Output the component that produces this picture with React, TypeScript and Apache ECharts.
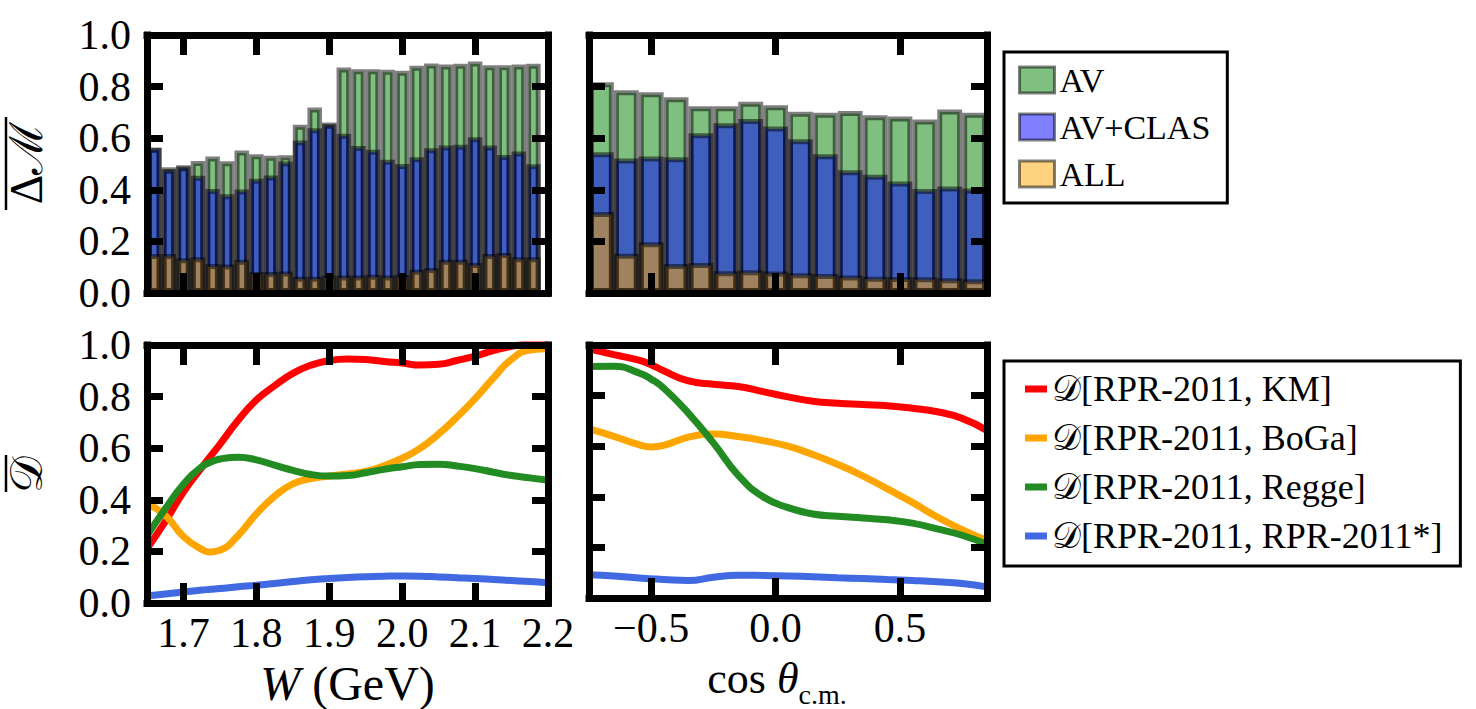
import React, { useEffect, useRef } from "react";
import * as echarts from "echarts";

// ---------- data ----------
const wBarCenters = [1.66, 1.68, 1.7, 1.72, 1.74, 1.76, 1.78, 1.8, 1.82, 1.84, 1.86, 1.88, 1.9, 1.92, 1.94, 1.96, 1.98, 2.0, 2.02, 2.04, 2.06, 2.08, 2.1, 2.12, 2.14, 2.16, 2.18];
const avW = [0.563, 0.487, 0.495, 0.512, 0.529, 0.511, 0.552, 0.538, 0.532, 0.534, 0.652, 0.719, 0.661, 0.874, 0.867, 0.867, 0.865, 0.861, 0.881, 0.89, 0.886, 0.889, 0.897, 0.883, 0.883, 0.886, 0.889];
const avClasW = [0.563, 0.481, 0.49, 0.454, 0.403, 0.383, 0.401, 0.443, 0.455, 0.51, 0.591, 0.639, 0.655, 0.617, 0.57, 0.555, 0.516, 0.5, 0.526, 0.561, 0.572, 0.575, 0.604, 0.572, 0.535, 0.548, 0.499];
const allW = [0.151, 0.151, 0.135, 0.139, 0.112, 0.11, 0.129, 0.081, 0.081, 0.083, 0.063, 0.063, 0.068, 0.068, 0.068, 0.071, 0.068, 0.07, 0.09, 0.097, 0.129, 0.129, 0.116, 0.151, 0.155, 0.139, 0.139];

const cosBarCenters = [-0.7, -0.6, -0.5, -0.4, -0.3, -0.2, -0.1, 0.0, 0.1, 0.2, 0.3, 0.4, 0.5, 0.6, 0.7, 0.8];
const avC = [0.817, 0.786, 0.778, 0.759, 0.724, 0.724, 0.741, 0.728, 0.703, 0.699, 0.705, 0.689, 0.684, 0.672, 0.711, 0.699];
const avClasC = [0.546, 0.521, 0.529, 0.526, 0.619, 0.658, 0.674, 0.645, 0.596, 0.538, 0.476, 0.458, 0.432, 0.403, 0.413, 0.405];
const allC = [0.314, 0.152, 0.197, 0.112, 0.116, 0.084, 0.088, 0.083, 0.077, 0.074, 0.068, 0.063, 0.062, 0.061, 0.057, 0.053];

const wCurve = [1.65, 1.675, 1.7, 1.725, 1.7375, 1.75, 1.775, 1.8, 1.825, 1.85, 1.875, 1.9, 1.925, 1.95, 1.975, 2.0, 2.025, 2.05, 2.075, 2.1, 2.125, 2.15, 2.175, 2.2];
const kmW = [0.21, 0.315, 0.43, 0.525, 0.57, 0.615, 0.708, 0.787, 0.842, 0.89, 0.922, 0.94, 0.946, 0.944, 0.936, 0.93, 0.922, 0.925, 0.94, 0.957, 0.978, 0.995, 1.005, 1.01];
const bogaW = [0.385, 0.34, 0.258, 0.208, 0.198, 0.204, 0.262, 0.345, 0.414, 0.462, 0.482, 0.492, 0.5, 0.51, 0.532, 0.561, 0.6, 0.655, 0.72, 0.792, 0.872, 0.945, 0.98, 0.985];
const reggeW = [0.26, 0.365, 0.46, 0.528, 0.546, 0.558, 0.565, 0.555, 0.534, 0.514, 0.498, 0.492, 0.494, 0.505, 0.518, 0.528, 0.537, 0.538, 0.531, 0.521, 0.507, 0.494, 0.485, 0.476];
const rprW = [0.028, 0.035, 0.043, 0.05, 0.053, 0.056, 0.063, 0.069, 0.076, 0.083, 0.09, 0.095, 0.099, 0.102, 0.104, 0.105, 0.104, 0.101, 0.098, 0.095, 0.091, 0.087, 0.083, 0.078];

const cosCurve = [-0.75, -0.65, -0.55, -0.5, -0.45, -0.35, -0.25, -0.15, -0.05, 0.05, 0.15, 0.25, 0.35, 0.45, 0.55, 0.65, 0.75, 0.85];
const kmC = [0.985, 0.962, 0.94, 0.922, 0.898, 0.858, 0.845, 0.836, 0.816, 0.795, 0.778, 0.77, 0.765, 0.76, 0.75, 0.736, 0.71, 0.662];
const bogaC = [0.668, 0.639, 0.606, 0.597, 0.603, 0.636, 0.648, 0.638, 0.622, 0.6, 0.567, 0.528, 0.483, 0.431, 0.378, 0.32, 0.27, 0.226];
const reggeC = [0.915, 0.916, 0.89, 0.865, 0.83, 0.73, 0.613, 0.485, 0.4, 0.357, 0.332, 0.323, 0.316, 0.309, 0.296, 0.273, 0.248, 0.212];
const rprC = [0.092, 0.087, 0.079, 0.076, 0.073, 0.069, 0.082, 0.09, 0.089, 0.087, 0.084, 0.08, 0.077, 0.073, 0.069, 0.064, 0.057, 0.044];

const wTicks = [1.7, 1.8, 1.9, 2.0, 2.1, 2.2];
const cosTicks = [-0.5, 0.0, 0.5];
const barNames = ["AV", "AV+CLAS", "ALL"];
const lineNames = [
  "𝒟[RPR-2011, KM]",
  "𝒟[RPR-2011, BoGa]",
  "𝒟[RPR-2011, Regge]",
  "𝒟[RPR-2011, RPR-2011*]",
];

// ---------- style ----------
const FONT = "serif";
const barFill = ["rgba(0,128,0,0.5)", "rgba(0,0,255,0.5)", "rgba(255,165,0,0.5)"];
const lineColors = ["#ff0000", "#ffa500", "#228b22", "#4169e1"];

const grids = [
  { left: 147, top: 35, width: 401, height: 258 },
  { left: 589, top: 35, width: 398, height: 258 },
  { left: 147, top: 345, width: 401, height: 258 },
  { left: 589, top: 345, width: 398, height: 258 },
];
const wBarPx = 401 * 0.02 / 0.55;
const cosBarPx = 398 * 0.1 / 1.6;

const pairs = (xs: number[], ys: number[]) => xs.map((x, i) => [x, ys[i]]);

const frameLine = { show: true, onZero: false, lineStyle: { color: "#000", width: 7, cap: "square" } };

function fmtTick(v: number) {
  const s = Math.abs(v) < 1e-9 ? "0.0" : v.toFixed(1);
  return s.replace("-", "−");
}

function xPair(gridIndex: number, min: number, max: number, ticks: number[], showLabels: boolean, name?: string, nameRich?: any, nameGap?: number, namePad?: number[]) {
  const base: any = {
    type: "value",
    gridIndex,
    min,
    max,
    z: 10,
    axisLine: frameLine,
    splitLine: { show: false },
    axisTick: { show: true, inside: true, length: 20, lineStyle: { color: "#000", width: 7 }, customValues: ticks },
  };
  const bottom: any = {
    ...base,
    position: "bottom",
    axisLabel: showLabels
      ? { show: true, customValues: ticks, formatter: fmtTick, color: "#000", fontFamily: FONT, fontSize: 42, margin: 9 }
      : { show: false },
  };
  if (name) {
    bottom.name = name;
    bottom.nameLocation = "middle";
    bottom.nameGap = nameGap;
    bottom.nameTextStyle = { color: "#000", fontFamily: FONT, fontSize: 48, rich: nameRich, padding: namePad || [0, 0, 0, 0] };
  }
  const top: any = { ...base, position: "top", axisLabel: { show: false } };
  return [bottom, top];
}

function yPair(gridIndex: number, showLabels: boolean) {
  const base: any = {
    type: "value",
    gridIndex,
    min: 0,
    max: 1,
    interval: 0.2,
    z: 10,
    axisLine: frameLine,
    splitLine: { show: false },
    axisTick: { show: true, inside: true, length: 16, lineStyle: { color: "#000", width: 7 } },
  };
  const left: any = {
    ...base,
    position: "left",
    axisLabel: showLabels
      ? { show: true, formatter: (v: number) => v.toFixed(1), color: "#000", fontFamily: FONT, fontSize: 42, margin: 16 }
      : { show: false },
  };
  const right: any = { ...base, position: "right", axisLabel: { show: false } };
  return [left, right];
}

function barSeries(axisIndex: number, xs: number[], ys: number[], k: number, width: number) {
  return {
    type: "bar",
    name: barNames[k],
    xAxisIndex: axisIndex,
    yAxisIndex: axisIndex,
    data: pairs(xs, ys),
    barWidth: width,
    barGap: "-100%",
    itemStyle: { color: barFill[k], borderColor: "rgba(0,0,0,0.5)", borderWidth: 5 },
    emphasis: { disabled: true },
  };
}

function lineSeries(axisIndex: number, xs: number[], ys: number[], k: number) {
  return {
    type: "line",
    name: lineNames[k],
    xAxisIndex: axisIndex,
    yAxisIndex: axisIndex,
    data: pairs(xs, ys),
    smooth: 0.5,
    symbol: "none",
    showSymbol: false,
    clip: true,
    lineStyle: { color: lineColors[k], width: 7 },
    itemStyle: { color: lineColors[k] },
    emphasis: { disabled: true },
  };
}

export default function App() {
  const ref = useRef<HTMLDivElement>(null);
  useEffect(() => {
    if (!ref.current) return;
    const chart = echarts.init(ref.current, undefined, { renderer: "svg" });
    const option: any = {
      animation: false,
      backgroundColor: "#ffffff",
      textStyle: { fontFamily: FONT, color: "#000" },
      grid: grids.map((g) => ({ ...g, containLabel: false })),
      xAxis: [
        ...xPair(0, 1.65, 2.2, wTicks, false),
        ...xPair(1, -0.75, 0.85, cosTicks, false),
        ...xPair(2, 1.65, 2.2, wTicks, true, "{i|W} (GeV)", {
          i: { fontStyle: "italic", fontFamily: FONT, fontSize: 48, color: "#000" },
        }, 56),
        ...xPair(3, -0.75, 0.85, cosTicks, true, "{r|cos }{i|θ}{s|c.m.}", {
          r: { fontFamily: FONT, fontSize: 44, color: "#000", lineHeight: 60, verticalAlign: "middle" },
          i: { fontFamily: FONT, fontStyle: "italic", fontSize: 44, color: "#000", lineHeight: 60, verticalAlign: "middle" },
          s: { fontFamily: FONT, fontSize: 28, color: "#000", lineHeight: 60, verticalAlign: "bottom" },
        }, 50, [0, 22, 0, 0]),
      ],
      yAxis: [...yPair(0, true), ...yPair(1, false), ...yPair(2, true), ...yPair(3, false)],
      legend: [
        {
          data: barNames,
          orient: "vertical",
          left: 1004,
          top: 52,
          padding: [11, 17, 12, 14],
          itemGap: 13,
          itemWidth: 35,
          itemHeight: 26,
          icon: "rect",
          itemStyle: { borderWidth: 3 },
          borderColor: "#000",
          borderWidth: 3,
          backgroundColor: "#fff",
          selectedMode: false,
          textStyle: { fontFamily: FONT, fontSize: 34, color: "#000", lineHeight: 34 },
        },
        {
          data: lineNames,
          orient: "vertical",
          left: 1004,
          top: 361,
          padding: [10, 18, 12, 21],
          itemGap: 13,
          itemWidth: 22,
          itemHeight: 7,
          icon: "rect",
          borderColor: "#000",
          borderWidth: 3,
          backgroundColor: "#fff",
          selectedMode: false,
          textStyle: { fontFamily: FONT, fontSize: 36, color: "#000", lineHeight: 34 },
        },
      ],
      graphic: [
        {
          type: "text",
          x: 26,
          y: 163,
          rotation: Math.PI / 2,
          style: { text: "Δℳ", fontFamily: FONT, fontSize: 46, fill: "#000", align: "center", verticalAlign: "middle" },
        },
        { type: "line", shape: { x1: 6, y1: 117, x2: 6, y2: 210 }, style: { stroke: "#000", lineWidth: 2.5 } },
        {
          type: "text",
          x: 26,
          y: 474,
          rotation: Math.PI / 2,
          style: { text: "𝒟", fontFamily: FONT, fontSize: 46, fill: "#000", align: "center", verticalAlign: "middle" },
        },
        { type: "line", shape: { x1: 6, y1: 455, x2: 6, y2: 492 }, style: { stroke: "#000", lineWidth: 2.5 } },
      ],
      series: [
        barSeries(0, wBarCenters, avW, 0, wBarPx),
        barSeries(0, wBarCenters, avClasW, 1, wBarPx),
        barSeries(0, wBarCenters, allW, 2, wBarPx),
        barSeries(2, cosBarCenters, avC, 0, cosBarPx),
        barSeries(2, cosBarCenters, avClasC, 1, cosBarPx),
        barSeries(2, cosBarCenters, allC, 2, cosBarPx),
        lineSeries(4, wCurve, kmW, 0),
        lineSeries(4, wCurve, bogaW, 1),
        lineSeries(4, wCurve, reggeW, 2),
        lineSeries(4, wCurve, rprW, 3),
        lineSeries(6, cosCurve, kmC, 0),
        lineSeries(6, cosCurve, bogaC, 1),
        lineSeries(6, cosCurve, reggeC, 2),
        lineSeries(6, cosCurve, rprC, 3),
      ],
    };
    chart.setOption(option);
    return () => chart.dispose();
  }, []);
  return (
    <div
      ref={ref}
      style={{ position: "fixed", left: 0, top: 0, width: "1476px", height: "709px", background: "#fff" }}
    />
  );
}
